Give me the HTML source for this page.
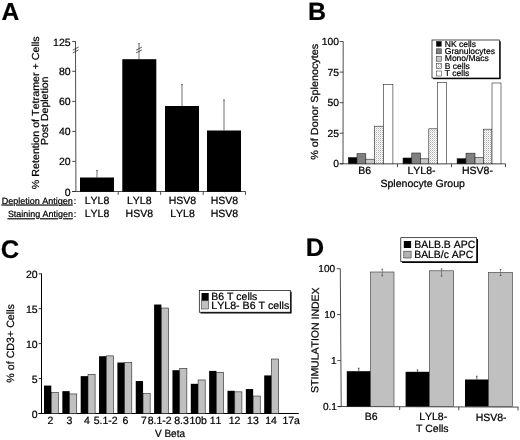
<!DOCTYPE html>
<html><head><meta charset="utf-8"><title>Figure</title>
<style>html,body{margin:0;padding:0;background:#fff}svg{display:block}text{font-family:"Liberation Sans",sans-serif;fill:#000;font-kerning:none;text-rendering:geometricPrecision;stroke:#000;stroke-width:0.22px}</style>
</head><body>
<svg width="520" height="440" viewBox="0 0 520 440">
<rect width="520" height="440" fill="#fff"/>
<text x="1.4" y="19.5" font-size="24.6" font-weight="bold">A</text>
<line x1="75.5" y1="41.5" x2="75.9" y2="191.5" stroke="#222" stroke-width="0.8"/>
<line x1="72.2" y1="191.5" x2="245.5" y2="191.5" stroke="#222" stroke-width="0.8"/>
<line x1="72.2" y1="41.5" x2="75.7" y2="41.5" stroke="#222" stroke-width="0.8"/>
<text x="70.6" y="45.5" font-size="10.5" text-anchor="end">125</text>
<line x1="72.2" y1="71.3" x2="75.7" y2="71.3" stroke="#222" stroke-width="0.8"/>
<text x="70.6" y="75.3" font-size="10.5" text-anchor="end">80</text>
<line x1="72.2" y1="101.4" x2="75.7" y2="101.4" stroke="#222" stroke-width="0.8"/>
<text x="70.6" y="105.4" font-size="10.5" text-anchor="end">60</text>
<line x1="72.2" y1="131.4" x2="75.7" y2="131.4" stroke="#222" stroke-width="0.8"/>
<text x="70.6" y="135.4" font-size="10.5" text-anchor="end">40</text>
<line x1="72.2" y1="161.4" x2="75.7" y2="161.4" stroke="#222" stroke-width="0.8"/>
<text x="70.6" y="165.4" font-size="10.5" text-anchor="end">20</text>
<line x1="72.2" y1="191.5" x2="75.7" y2="191.5" stroke="#222" stroke-width="0.8"/>
<text x="70.6" y="195.5" font-size="10.5" text-anchor="end">0</text>
<line x1="118.2" y1="191.5" x2="118.2" y2="194.9" stroke="#222" stroke-width="0.8"/>
<line x1="160.7" y1="191.5" x2="160.7" y2="194.9" stroke="#222" stroke-width="0.8"/>
<line x1="203.2" y1="191.5" x2="203.2" y2="194.9" stroke="#222" stroke-width="0.8"/>
<line x1="245.5" y1="191.5" x2="245.5" y2="194.9" stroke="#222" stroke-width="0.8"/>
<line x1="72.8" y1="50.15" x2="78.60000000000001" y2="47.050000000000004" stroke="#111" stroke-width="0.7"/>
<line x1="72.8" y1="52.949999999999996" x2="78.60000000000001" y2="49.85" stroke="#111" stroke-width="0.7"/>
<line x1="136.1" y1="50.15" x2="141.9" y2="47.050000000000004" stroke="#111" stroke-width="0.7"/>
<line x1="136.1" y1="52.949999999999996" x2="141.9" y2="49.85" stroke="#111" stroke-width="0.7"/>
<line x1="97" y1="170.6" x2="97" y2="177.5" stroke="#333" stroke-width="0.7"/>
<line x1="96.2" y1="170.6" x2="97.8" y2="170.6" stroke="#333" stroke-width="0.8"/>
<rect x="80.00" y="177.50" width="34.00" height="14.30" fill="#000"/>
<line x1="139" y1="43.7" x2="139" y2="59.2" stroke="#333" stroke-width="0.7"/>
<line x1="138.2" y1="43.7" x2="139.8" y2="43.7" stroke="#333" stroke-width="0.8"/>
<rect x="122.30" y="59.20" width="34.00" height="132.60" fill="#000"/>
<line x1="182" y1="84.6" x2="182" y2="106" stroke="#333" stroke-width="0.7"/>
<line x1="181.2" y1="84.6" x2="182.8" y2="84.6" stroke="#333" stroke-width="0.8"/>
<rect x="165.00" y="106.00" width="34.00" height="85.80" fill="#000"/>
<line x1="224" y1="100" x2="224" y2="130.5" stroke="#333" stroke-width="0.7"/>
<line x1="223.2" y1="100" x2="224.8" y2="100" stroke="#333" stroke-width="0.8"/>
<rect x="207.00" y="130.50" width="34.00" height="61.30" fill="#000"/>
<text x="72.9" y="203.6" font-size="9" text-anchor="end" textLength="71.2" lengthAdjust="spacingAndGlyphs" text-decoration="underline">Depletion Antigen</text>
<text x="73.8" y="203.6" font-size="9">:</text>
<text x="72.9" y="217.3" font-size="9" text-anchor="end" textLength="65" lengthAdjust="spacingAndGlyphs" text-decoration="underline">Staining Antigen</text>
<text x="73.8" y="217.3" font-size="9">:</text>
<text x="97" y="203.7" font-size="10.5" text-anchor="middle">LYL8</text>
<text x="97" y="216.8" font-size="10.5" text-anchor="middle">LYL8</text>
<text x="139.3" y="203.7" font-size="10.5" text-anchor="middle">LYL8</text>
<text x="139.3" y="216.8" font-size="10.5" text-anchor="middle">HSV8</text>
<text x="182.5" y="203.7" font-size="10.5" text-anchor="middle">HSV8</text>
<text x="182.5" y="216.8" font-size="10.5" text-anchor="middle">LYL8</text>
<text x="224.5" y="203.7" font-size="10.5" text-anchor="middle">HSV8</text>
<text x="224.5" y="216.8" font-size="10.5" text-anchor="middle">HSV8</text>
<text transform="translate(38.8 112.8) rotate(-90)" font-size="10.2" text-anchor="middle" textLength="153" lengthAdjust="spacingAndGlyphs">% Retention of Tetramer + Cells</text>
<text transform="translate(48.3 110.8) rotate(-90)" font-size="10.2" text-anchor="middle" textLength="68.5" lengthAdjust="spacingAndGlyphs">Post Depletion</text>
<text x="307.9" y="19.7" font-size="25" font-weight="bold">B</text>
<line x1="343.2" y1="41.5" x2="343.0" y2="163.8" stroke="#222" stroke-width="0.8"/>
<line x1="339.7" y1="163.8" x2="505.5" y2="163.8" stroke="#222" stroke-width="0.8"/>
<line x1="339.7" y1="41.5" x2="343.2" y2="41.5" stroke="#222" stroke-width="0.8"/>
<text x="339.0" y="45.1" font-size="10.3" text-anchor="end">100</text>
<line x1="339.7" y1="72.1" x2="343.2" y2="72.1" stroke="#222" stroke-width="0.8"/>
<text x="339.0" y="75.69999999999999" font-size="10.3" text-anchor="end">75</text>
<line x1="339.7" y1="102.7" x2="343.2" y2="102.7" stroke="#222" stroke-width="0.8"/>
<text x="339.0" y="106.3" font-size="10.3" text-anchor="end">50</text>
<line x1="339.7" y1="133.2" x2="343.2" y2="133.2" stroke="#222" stroke-width="0.8"/>
<text x="339.0" y="136.79999999999998" font-size="10.3" text-anchor="end">25</text>
<line x1="339.7" y1="163.8" x2="343.2" y2="163.8" stroke="#222" stroke-width="0.8"/>
<text x="339.0" y="167.4" font-size="10.3" text-anchor="end">0</text>
<line x1="397.5" y1="163.8" x2="397.5" y2="167.20000000000002" stroke="#222" stroke-width="0.8"/>
<line x1="451.5" y1="163.8" x2="451.5" y2="167.20000000000002" stroke="#222" stroke-width="0.8"/>
<line x1="505.5" y1="163.8" x2="505.5" y2="167.20000000000002" stroke="#222" stroke-width="0.8"/>
<defs><pattern id="dots" width="2" height="2" patternUnits="userSpaceOnUse"><rect width="2" height="2" fill="#fff"/><rect x="0" y="0" width="1" height="1" fill="#b0b0b0"/><rect x="1" y="1" width="1" height="1" fill="#dcdcdc"/></pattern></defs>
<rect x="348.30" y="157.50" width="8.70" height="6.30" fill="#000" stroke="#222" stroke-width="0.6"/>
<rect x="357.00" y="153.70" width="8.80" height="10.10" fill="#808080" stroke="#222" stroke-width="0.6"/>
<rect x="365.80" y="159.20" width="8.70" height="4.60" fill="#c8c8c8" stroke="#222" stroke-width="0.6"/>
<rect x="374.50" y="126.20" width="8.80" height="37.60" fill="url(#dots)" stroke="#222" stroke-width="0.6"/>
<rect x="383.30" y="84.50" width="9.60" height="79.30" fill="#fff" stroke="#222" stroke-width="0.6"/>
<rect x="403.00" y="158.00" width="8.75" height="5.80" fill="#000" stroke="#222" stroke-width="0.6"/>
<rect x="411.75" y="153.00" width="8.75" height="10.80" fill="#808080" stroke="#222" stroke-width="0.6"/>
<rect x="420.50" y="158.80" width="8.30" height="5.00" fill="#c8c8c8" stroke="#222" stroke-width="0.6"/>
<rect x="428.80" y="128.80" width="8.70" height="35.00" fill="url(#dots)" stroke="#222" stroke-width="0.6"/>
<rect x="437.50" y="82.50" width="9.00" height="81.30" fill="#fff" stroke="#222" stroke-width="0.6"/>
<rect x="457.10" y="158.70" width="8.90" height="5.10" fill="#000" stroke="#222" stroke-width="0.6"/>
<rect x="466.00" y="153.20" width="9.00" height="10.60" fill="#808080" stroke="#222" stroke-width="0.6"/>
<rect x="475.00" y="157.50" width="8.50" height="6.30" fill="#c8c8c8" stroke="#222" stroke-width="0.6"/>
<rect x="483.50" y="129.20" width="8.50" height="34.60" fill="url(#dots)" stroke="#222" stroke-width="0.6"/>
<rect x="492.00" y="83.00" width="9.00" height="80.80" fill="#fff" stroke="#222" stroke-width="0.6"/>
<text x="364.7" y="174.4" font-size="10.5" text-anchor="middle">B6</text>
<text x="421.5" y="174.4" font-size="10.5" text-anchor="middle">LYL8-</text>
<text x="477.5" y="174.4" font-size="10.5" text-anchor="middle">HSV8-</text>
<text x="422.7" y="187.2" font-size="10.5" text-anchor="middle" textLength="84.5" lengthAdjust="spacingAndGlyphs">Splenocyte Group</text>
<text transform="translate(318.3 101.8) rotate(-90)" font-size="10.3" text-anchor="middle" textLength="116" lengthAdjust="spacingAndGlyphs">% of Donor Splenocytes</text>
<rect x="433.20" y="41.20" width="67.50" height="38.00" fill="#000"/>
<rect x="432.00" y="40.00" width="67.50" height="38.00" fill="#fff" stroke="#000" stroke-width="0.7"/>
<rect x="436.30" y="41.40" width="5.00" height="5.00" fill="#000" stroke="#222" stroke-width="0.5"/>
<text x="444.8" y="46.6" font-size="8.5">NK cells</text>
<rect x="436.30" y="48.80" width="5.00" height="5.00" fill="#808080" stroke="#222" stroke-width="0.5"/>
<text x="444.8" y="54.0" font-size="8.5">Granulocytes</text>
<rect x="436.30" y="56.20" width="5.00" height="5.00" fill="#c8c8c8" stroke="#222" stroke-width="0.5"/>
<text x="444.8" y="61.400000000000006" font-size="8.5">Mono/Macs</text>
<rect x="436.30" y="63.60" width="5.00" height="5.00" fill="url(#dots)" stroke="#222" stroke-width="0.5"/>
<text x="444.8" y="68.8" font-size="8.5">B cells</text>
<rect x="436.30" y="71.00" width="5.00" height="5.00" fill="#fff" stroke="#222" stroke-width="0.5"/>
<text x="444.8" y="76.2" font-size="8.5">T cells</text>
<text x="0.8" y="258.2" font-size="25.5" font-weight="bold">C</text>
<line x1="41.5" y1="273.5" x2="41.5" y2="413.5" stroke="#000" stroke-width="1.0"/>
<line x1="38.5" y1="413.5" x2="298.8" y2="413.5" stroke="#000" stroke-width="1.0"/>
<line x1="38.7" y1="273.8" x2="41.5" y2="273.8" stroke="#000" stroke-width="0.8"/>
<text x="37.6" y="278.0" font-size="10.5" text-anchor="end">20</text>
<line x1="38.7" y1="308.7" x2="41.5" y2="308.7" stroke="#000" stroke-width="0.8"/>
<text x="37.6" y="312.9" font-size="10.5" text-anchor="end">15</text>
<line x1="38.7" y1="343.6" x2="41.5" y2="343.6" stroke="#000" stroke-width="0.8"/>
<text x="37.6" y="347.8" font-size="10.5" text-anchor="end">10</text>
<line x1="38.7" y1="378.5" x2="41.5" y2="378.5" stroke="#000" stroke-width="0.8"/>
<text x="37.6" y="382.7" font-size="10.5" text-anchor="end">5</text>
<line x1="38.7" y1="413.5" x2="41.5" y2="413.5" stroke="#000" stroke-width="0.8"/>
<text x="37.6" y="417.7" font-size="10.5" text-anchor="end">0</text>
<rect x="44.00" y="385.56" width="7.30" height="27.94" fill="#000"/>
<rect x="51.30" y="392.55" width="7.10" height="20.95" fill="#c0c0c0" stroke="#222" stroke-width="0.6"/>
<rect x="62.35" y="391.15" width="7.30" height="22.35" fill="#000"/>
<rect x="69.65" y="393.94" width="7.10" height="19.56" fill="#c0c0c0" stroke="#222" stroke-width="0.6"/>
<rect x="80.70" y="376.13" width="7.30" height="37.37" fill="#000"/>
<rect x="88.00" y="374.38" width="7.10" height="39.12" fill="#c0c0c0" stroke="#222" stroke-width="0.6"/>
<rect x="99.05" y="356.22" width="7.30" height="57.28" fill="#000"/>
<rect x="106.35" y="355.87" width="7.10" height="57.63" fill="#c0c0c0" stroke="#222" stroke-width="0.6"/>
<rect x="117.40" y="362.51" width="7.30" height="50.99" fill="#000"/>
<rect x="124.70" y="362.51" width="7.10" height="50.99" fill="#c0c0c0" stroke="#222" stroke-width="0.6"/>
<rect x="135.75" y="381.02" width="7.30" height="32.48" fill="#000"/>
<rect x="143.05" y="393.59" width="7.10" height="19.91" fill="#c0c0c0" stroke="#222" stroke-width="0.6"/>
<rect x="154.10" y="304.53" width="7.30" height="108.97" fill="#000"/>
<rect x="161.40" y="308.03" width="7.10" height="105.47" fill="#c0c0c0" stroke="#222" stroke-width="0.6"/>
<rect x="172.45" y="370.19" width="7.30" height="43.31" fill="#000"/>
<rect x="179.75" y="368.45" width="7.10" height="45.05" fill="#c0c0c0" stroke="#222" stroke-width="0.6"/>
<rect x="190.80" y="383.81" width="7.30" height="29.69" fill="#000"/>
<rect x="198.10" y="379.97" width="7.10" height="33.53" fill="#c0c0c0" stroke="#222" stroke-width="0.6"/>
<rect x="209.15" y="370.89" width="7.30" height="42.61" fill="#000"/>
<rect x="216.45" y="372.29" width="7.10" height="41.21" fill="#c0c0c0" stroke="#222" stroke-width="0.6"/>
<rect x="227.50" y="390.80" width="7.30" height="22.70" fill="#000"/>
<rect x="234.80" y="391.85" width="7.10" height="21.65" fill="#c0c0c0" stroke="#222" stroke-width="0.6"/>
<rect x="245.85" y="389.05" width="7.30" height="24.45" fill="#000"/>
<rect x="253.15" y="396.04" width="7.10" height="17.46" fill="#c0c0c0" stroke="#222" stroke-width="0.6"/>
<rect x="264.20" y="375.43" width="7.30" height="38.07" fill="#000"/>
<rect x="271.50" y="359.02" width="7.10" height="54.48" fill="#c0c0c0" stroke="#222" stroke-width="0.6"/>
<text x="50.5" y="423.7" font-size="10.5" text-anchor="middle">2</text>
<text x="69.3" y="423.7" font-size="10.5" text-anchor="middle">3</text>
<text x="86.8" y="423.7" font-size="10.5" text-anchor="middle">4</text>
<text x="105.7" y="423.7" font-size="10.5" text-anchor="middle">5.1-2</text>
<text x="125.5" y="423.7" font-size="10.5" text-anchor="middle">6</text>
<text x="143.8" y="423.7" font-size="10.5" text-anchor="middle">7</text>
<text x="159.6" y="423.7" font-size="10.5" text-anchor="middle">8.1-2</text>
<text x="181.6" y="423.7" font-size="10.5" text-anchor="middle">8.3</text>
<text x="198.2" y="423.7" font-size="10.5" text-anchor="middle">10b</text>
<text x="215.6" y="423.7" font-size="10.5" text-anchor="middle">11</text>
<text x="234.6" y="423.7" font-size="10.5" text-anchor="middle">12</text>
<text x="252.9" y="423.7" font-size="10.5" text-anchor="middle">13</text>
<text x="271" y="423.7" font-size="10.5" text-anchor="middle">14</text>
<text x="291.2" y="423.7" font-size="10.5" text-anchor="middle">17a</text>
<text x="170" y="436.8" font-size="10.5" text-anchor="middle" textLength="30" lengthAdjust="spacingAndGlyphs">V Beta</text>
<text transform="translate(14.2 343.4) rotate(-90)" font-size="10.5" text-anchor="middle" textLength="78.5" lengthAdjust="spacingAndGlyphs">% of CD3+ Cells</text>
<rect x="200.60" y="291.70" width="91.00" height="21.80" fill="#000"/>
<rect x="199.30" y="290.40" width="91.00" height="21.80" fill="#fff" stroke="#000" stroke-width="0.7"/>
<rect x="201.50" y="293.00" width="7.20" height="7.80" fill="#000"/>
<rect x="201.50" y="300.80" width="7.20" height="8.20" fill="#c0c0c0" stroke="#222" stroke-width="0.5"/>
<text x="211.3" y="299.6" font-size="10.5" textLength="46" lengthAdjust="spacingAndGlyphs">B6 T cells</text>
<text x="211.3" y="309.3" font-size="10.5" textLength="78" lengthAdjust="spacingAndGlyphs">LYL8- B6 T cells</text>
<text x="305.7" y="256.1" font-size="25.4" font-weight="bold">D</text>
<line x1="340.3" y1="268.7" x2="341.2" y2="406.6" stroke="#222" stroke-width="0.8"/>
<line x1="337.5" y1="406.5" x2="518.4" y2="407.1" stroke="#222" stroke-width="0.8"/>
<line x1="336.7" y1="268.7" x2="340.3" y2="268.7" stroke="#222" stroke-width="0.8"/>
<text x="335.2" y="272.3" font-size="10.1" text-anchor="end">100</text>
<line x1="337.0" y1="314.6" x2="340.6" y2="314.6" stroke="#222" stroke-width="0.8"/>
<text x="335.4" y="318.20000000000005" font-size="10.1" text-anchor="end">10</text>
<line x1="337.29999999999995" y1="360.6" x2="340.9" y2="360.6" stroke="#222" stroke-width="0.8"/>
<text x="336.6" y="364.20000000000005" font-size="10.1" text-anchor="end">1</text>
<line x1="337.59999999999997" y1="406.6" x2="341.2" y2="406.6" stroke="#222" stroke-width="0.8"/>
<text x="337.0" y="410.20000000000005" font-size="10.1" text-anchor="end">0.1</text>
<line x1="399.7" y1="406.7" x2="399.7" y2="410.09999999999997" stroke="#222" stroke-width="0.8"/>
<line x1="458.8" y1="406.9" x2="458.8" y2="410.29999999999995" stroke="#222" stroke-width="0.8"/>
<line x1="518" y1="407.1" x2="518" y2="410.5" stroke="#222" stroke-width="0.8"/>
<line x1="358.70000000000005" y1="368.2" x2="358.70000000000005" y2="371.2" stroke="#222" stroke-width="0.7"/>
<line x1="357.90000000000003" y1="368.2" x2="359.50000000000006" y2="368.2" stroke="#222" stroke-width="0.7"/>
<rect x="346.80" y="371.20" width="23.80" height="35.40" fill="#000"/>
<rect x="370.60" y="272.00" width="23.40" height="134.60" fill="#c0c0c0" stroke="#333" stroke-width="0.6"/>
<line x1="382.3" y1="269.2" x2="382.3" y2="275.8" stroke="#555" stroke-width="0.6"/>
<line x1="381.5" y1="269.2" x2="383.1" y2="269.2" stroke="#333" stroke-width="0.8"/>
<line x1="381.5" y1="275.8" x2="383.1" y2="275.8" stroke="#333" stroke-width="0.8"/>
<line x1="417.5" y1="370" x2="417.5" y2="371.8" stroke="#222" stroke-width="0.7"/>
<line x1="416.7" y1="370" x2="418.3" y2="370" stroke="#222" stroke-width="0.7"/>
<rect x="405.60" y="371.80" width="23.80" height="34.80" fill="#000"/>
<rect x="429.40" y="270.80" width="24.30" height="135.80" fill="#c0c0c0" stroke="#333" stroke-width="0.6"/>
<line x1="441.54999999999995" y1="268.9" x2="441.54999999999995" y2="276" stroke="#555" stroke-width="0.6"/>
<line x1="440.74999999999994" y1="268.9" x2="442.34999999999997" y2="268.9" stroke="#333" stroke-width="0.8"/>
<line x1="440.74999999999994" y1="276" x2="442.34999999999997" y2="276" stroke="#333" stroke-width="0.8"/>
<line x1="476.8" y1="376.2" x2="476.8" y2="379.5" stroke="#222" stroke-width="0.7"/>
<line x1="476.0" y1="376.2" x2="477.6" y2="376.2" stroke="#222" stroke-width="0.7"/>
<rect x="465.00" y="379.50" width="23.60" height="27.10" fill="#000"/>
<rect x="488.60" y="272.50" width="23.90" height="134.10" fill="#c0c0c0" stroke="#333" stroke-width="0.6"/>
<line x1="500.55" y1="269.5" x2="500.55" y2="275.5" stroke="#555" stroke-width="0.6"/>
<line x1="499.75" y1="269.5" x2="501.35" y2="269.5" stroke="#333" stroke-width="0.8"/>
<line x1="499.75" y1="275.5" x2="501.35" y2="275.5" stroke="#333" stroke-width="0.8"/>
<text x="371.2" y="420.1" font-size="10.5" text-anchor="middle">B6</text>
<text x="433.2" y="420.2" font-size="10.5" text-anchor="middle">LYL8-</text>
<text x="432.3" y="431.7" font-size="10.5" text-anchor="middle">T Cells</text>
<text x="491.1" y="420.7" font-size="10.5" text-anchor="middle">HSV8-</text>
<text transform="translate(318.6 340.2) rotate(-89.6)" font-size="10.3" text-anchor="middle" textLength="105.5" lengthAdjust="spacingAndGlyphs">STIMULATION INDEX</text>
<rect x="402.10" y="239.00" width="75.90" height="24.00" fill="#000"/>
<rect x="400.80" y="237.70" width="75.90" height="24.00" fill="#fff" stroke="#000" stroke-width="0.7"/>
<rect x="403.80" y="241.00" width="7.30" height="7.00" fill="#000"/>
<rect x="403.80" y="251.20" width="7.30" height="6.80" fill="#b4b4b4" stroke="#333" stroke-width="0.6"/>
<text x="414.2" y="247.6" font-size="10.5" textLength="61" lengthAdjust="spacingAndGlyphs">BALB.B APC</text>
<text x="414.2" y="258.1" font-size="10.5" textLength="59" lengthAdjust="spacingAndGlyphs">BALB/c APC</text>
</svg>
</body></html>
